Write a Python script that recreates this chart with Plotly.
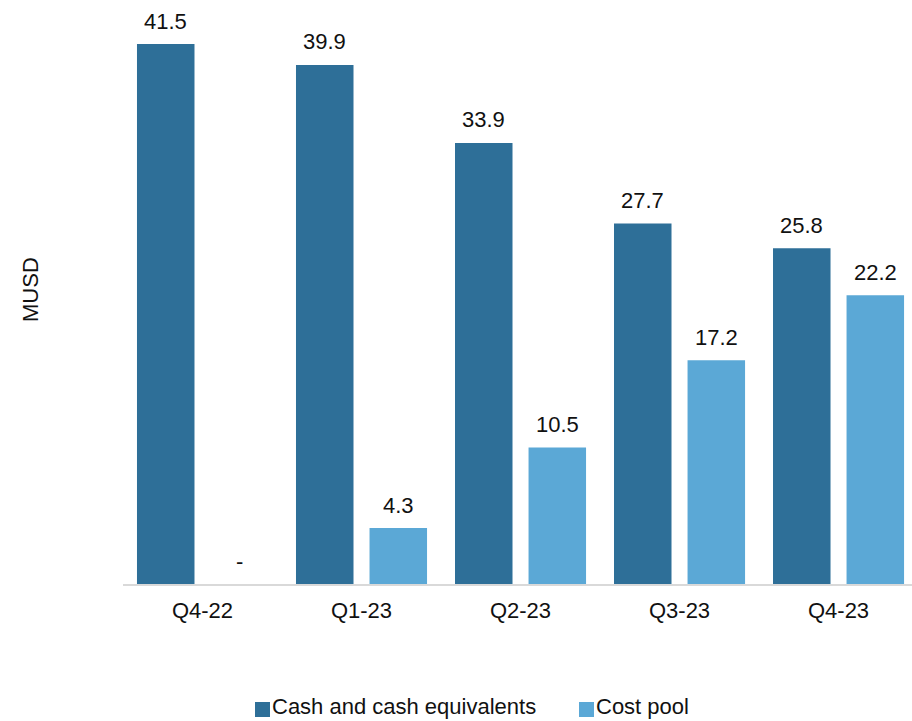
import plotly.graph_objects as go

quarters = ["Q4-22", "Q1-23", "Q2-23", "Q3-23", "Q4-23"]
cash = [41.5, 39.9, 33.9, 27.7, 25.8]
cost_pool = [0.0, 4.3, 10.5, 17.2, 22.2]
series_names = ["Cash and cash equivalents", "Cost pool"]

dark_blue = "#2E6F98"
light_blue = "#5BA8D6"
text_color = "#111111"
font_family = "Liberation Sans, Arial, sans-serif"
font_size = 22

# plot area in pixels (used to place the hand-drawn legend)
plot_left, plot_right, plot_top, plot_bottom = 123, 912, 20, 584


def px_x(px):
    return (px - plot_left) / (plot_right - plot_left)


def px_y(py):
    return (plot_bottom - py) / (plot_bottom - plot_top)


fig = go.Figure()
fig.add_trace(go.Bar(x=quarters, y=cash, name=series_names[0],
                     marker=dict(color=dark_blue, line=dict(width=0))))
fig.add_trace(go.Bar(x=quarters, y=cost_pool, name=series_names[1],
                     marker=dict(color=light_blue, line=dict(width=0))))

# value labels above each bar; zero values shown as a dash
offset_px = 37
for series, shift in ((cash, -offset_px), (cost_pool, offset_px)):
    for q, v in zip(quarters, series):
        fig.add_annotation(x=q, y=v, xref="x", yref="y",
                           text=f"{v:.1f}" if v else "-",
                           showarrow=False, xshift=shift, yshift=23,
                           yanchor="middle",
                           font=dict(size=font_size, color=text_color, family=font_family))

fig.add_annotation(text="MUSD", xref="paper", yref="paper",
                   x=px_x(30), y=px_y(290), textangle=-90, showarrow=False,
                   xanchor="center", yanchor="middle",
                   font=dict(size=font_size, color=text_color, family=font_family))

# legend: colour square followed by the series name
square_y, text_y = 709.5, 706
for name, color, sq_left in ((series_names[0], dark_blue, 255), (series_names[1], light_blue, 579)):
    fig.add_shape(type="rect", xref="paper", yref="paper",
                  x0=px_x(sq_left), x1=px_x(sq_left + 15),
                  y0=px_y(square_y + 7.5), y1=px_y(square_y - 7.5),
                  fillcolor=color, line=dict(width=0))
    fig.add_annotation(text=name, xref="paper", yref="paper",
                       x=px_x(sq_left + 16), y=px_y(text_y), showarrow=False,
                       xanchor="left", yanchor="middle", borderpad=0,
                       font=dict(size=font_size, color=text_color, family=font_family))

fig.update_layout(
    width=912, height=721,
    margin=dict(l=plot_left, r=912 - plot_right, t=plot_top, b=721 - plot_bottom),
    paper_bgcolor="white", plot_bgcolor="white",
    barmode="group", bargap=0.075, bargroupgap=0.218,
    font=dict(family=font_family, size=font_size, color=text_color),
    showlegend=False,
    xaxis=dict(type="category", range=[-0.5, 4.462], showgrid=False,
               showline=True, linecolor="#D9D9D9", linewidth=2,
               ticks="", tickfont=dict(size=font_size, color=text_color),
               ticklabelstandoff=6),
    yaxis=dict(range=[0, 43.35], showgrid=False, showticklabels=False,
               zeroline=False, showline=False),
)

fig.write_html("out.html")
